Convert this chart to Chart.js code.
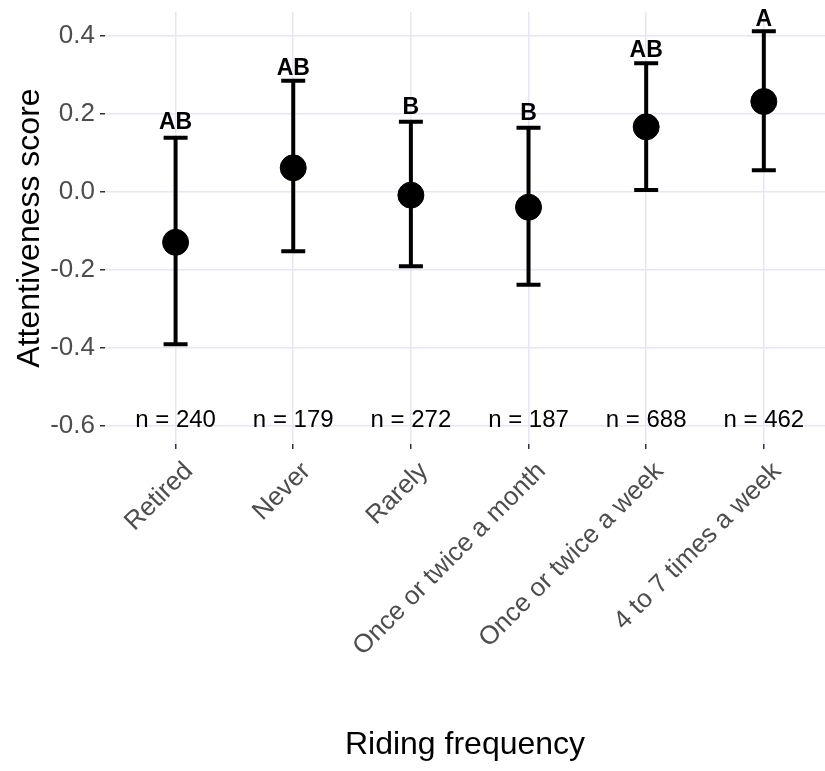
<!DOCTYPE html>
<html>
<head>
<meta charset="utf-8">
<script src="https://cdn.jsdelivr.net/npm/chart.js@4"></script>
<style>
  html, body { margin: 0; padding: 0; background: #fff; }
  #wrap { width: 825px; height: 771px; }
</style>
</head>
<body>
<div id="wrap"><canvas id="chart" width="825" height="771"></canvas></div>
<script>
// values
const categories = ['Retired', 'Never', 'Rarely', 'Once or twice a month', 'Once or twice a week', '4 to 7 times a week'];
const means = [-0.129, 0.062, -0.008, -0.039, 0.167, 0.232];
const upper = [0.139, 0.285, 0.180, 0.165, 0.330, 0.412];
const lower = [-0.390, -0.152, -0.190, -0.238, 0.005, 0.056];
const letters = ['AB', 'AB', 'B', 'B', 'AB', 'A'];
const letterY = [0.162, 0.300, 0.200, 0.185, 0.346, 0.426];
const counts = [240, 179, 272, 187, 688, 462];
const countY = -0.6;
const yTicks = [-0.6, -0.4, -0.2, 0.0, 0.2, 0.4];

const FONT = '"Liberation Sans", Arial, sans-serif';
const points = means.map((m, i) => ({ x: i, y: m }));

const errorBars = {
    id: 'errorBars',
    beforeDatasetsDraw(chart) {
        const ctx = chart.ctx, xs = chart.scales.x, ys = chart.scales.y;
        ctx.save();
        ctx.strokeStyle = '#000';
        ctx.lineWidth = 4;
        for (let i = 0; i < means.length; i++) {
            const x = xs.getPixelForValue(i);
            const yt = ys.getPixelForValue(upper[i]);
            const yb = ys.getPixelForValue(lower[i]);
            ctx.beginPath();
            ctx.moveTo(x, yt); ctx.lineTo(x, yb);
            ctx.moveTo(x - 12, yt); ctx.lineTo(x + 12, yt);
            ctx.moveTo(x - 12, yb); ctx.lineTo(x + 12, yb);
            ctx.stroke();
        }
        ctx.restore();
    },
    afterDatasetsDraw(chart) {
        const ctx = chart.ctx, xs = chart.scales.x, ys = chart.scales.y;
        ctx.save();
        ctx.fillStyle = '#000';
        ctx.textAlign = 'center';
        ctx.textBaseline = 'alphabetic';
        for (let i = 0; i < means.length; i++) {
            const x = xs.getPixelForValue(i);
            ctx.font = 'bold 23px ' + FONT;
            ctx.fillText(letters[i], x, ys.getPixelForValue(letterY[i]));
            ctx.font = '24px ' + FONT;
            ctx.fillText('n = ' + counts[i], x, ys.getPixelForValue(countY) + 1);
        }
        // rotated category labels (hjust = 1, vjust = 1 at 45 degrees)
        ctx.fillStyle = '#4d4d4d';
        ctx.font = '26px ' + FONT;
        ctx.textAlign = 'right';
        ctx.textBaseline = 'top';
        for (let i = 0; i < categories.length; i++) {
            const x = xs.getPixelForValue(i);
            ctx.save();
            ctx.translate(x + 4, xs.top + 14);
            ctx.rotate(-Math.PI / 4);
            ctx.fillText(categories[i], 0, 0);
            ctx.restore();
        }
        ctx.restore();
    }
};

new Chart(document.getElementById('chart'), {
    type: 'scatter',
    data: {
        datasets: [{
            data: points,
            backgroundColor: '#000',
            borderColor: '#000',
            pointRadius: 13,
            pointHoverRadius: 13
        }]
    },
    options: {
        responsive: false,
        animation: false,
        layout: { autoPadding: false, padding: { top: 12, right: 0, left: 0, bottom: 0 } },
        plugins: { legend: { display: false }, tooltip: { enabled: false } },
        scales: {
            x: {
                type: 'linear',
                min: -0.6,
                max: 5.52,
                afterBuildTicks: s => { s.ticks = categories.map((c, i) => ({ value: i })); },
                afterFit: s => { s.height = 327; s.paddingLeft = 0; s.paddingRight = 0; },
                grid: { color: '#e6e6f7', lineWidth: 1.5, tickColor: '#333', tickLength: 5 },
                border: { display: false },
                ticks: { display: false },
                title: {
                    display: true,
                    text: 'Riding frequency',
                    color: '#000',
                    font: { family: FONT, size: 32 },
                    padding: { top: 7, bottom: 7 }
                }
            },
            y: {
                min: -0.646,
                max: 0.4615,
                afterBuildTicks: s => { s.ticks = yTicks.map(v => ({ value: v })); },
                afterFit: s => { s.width = 105; s.paddingTop = 0; s.paddingBottom = 0; },
                grid: { color: '#e6e6f7', lineWidth: 1.5, tickColor: '#333', tickLength: 5 },
                border: { display: false },
                ticks: {
                    padding: 5,
                    color: '#4d4d4d',
                    font: { family: FONT, size: 26 },
                    callback: v => v.toFixed(1)
                },
                title: {
                    display: true,
                    text: 'Attentiveness score',
                    color: '#000',
                    font: { family: FONT, size: 32 },
                    padding: { top: 11, bottom: 0 }
                }
            }
        }
    },
    plugins: [errorBars]
});
</script>
</body>
</html>
